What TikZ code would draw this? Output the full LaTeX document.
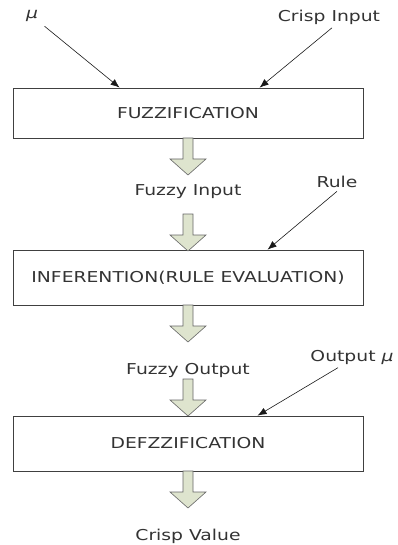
\documentclass[tikz,border=0pt]{standalone}
\usepackage{fontspec}
\setmainfont{DejaVu Sans}[FakeStretch=1.25]
\usepackage{tikz}
\usetikzlibrary{arrows.meta}
\definecolor{arrowfill}{RGB}{222,228,206}
\tikzset{
 stage/.style={draw=black!75, thick, minimum width=350pt, minimum height=50pt, inner sep=0pt, text=black!80, font=\fontsize{15}{17}\selectfont},
 lbl/.style={text=black!80, font=\fontsize{15}{17}\selectfont},
 feed/.style={draw=black!90, semithick, -{Latex[length=9pt,width=7pt]}},
 fatarrow/.pic={\draw[draw=black!60, semithick, fill=arrowfill] (-5,0) -- (5,0) -- (5,21) -- (18,21) -- (0,37) -- (-18,21) -- (-5,21) -- cycle;}
}

\begin{document}
\begin{tikzpicture}[x=1pt, y=-1pt]
\useasboundingbox (0,0) rectangle (397,545);
% stages
\node[stage] (fuzz) at (188,113) {FUZZIFICATION};
\node[stage, minimum height=55pt] (infer) at (188,277.5) {INFERENTION(RULE EVALUATION)};
\node[stage, minimum height=55pt] (defuzz) at (188,443.5) {DEFZZIFICATION};
% labels
\node[lbl] (mu) at (32,16) {\textit{μ}};
\node[lbl] (crisp) at (329,17) {Crisp Input};
\node[lbl] (fin) at (188,192) {Fuzzy Input};
\node[lbl] (rule) at (337,182) {Rule};
\node[lbl] (fout) at (188,370) {Fuzzy Output};
\node[lbl] (outmu) at (352,357) {Output \textit{μ}};
\node[lbl] (cval) at (188,536) {Crisp Value};
% inputs
\draw[feed, shorten <=4pt] (mu) -- ([xshift=107pt]fuzz.north west);
\draw[feed] ([xshift=3pt]crisp.south) -- ([xshift=247pt]fuzz.north west);
\draw[feed] (rule.south) -- ([xshift=255pt]infer.north west);
\draw[feed] ([xshift=-14pt]outmu.south) -- ([xshift=245pt]defuzz.north west);
% flow
\foreach \top in {138,214,305,379,471}
 \pic at (188,\top) {fatarrow};
\end{tikzpicture}
\end{document}
